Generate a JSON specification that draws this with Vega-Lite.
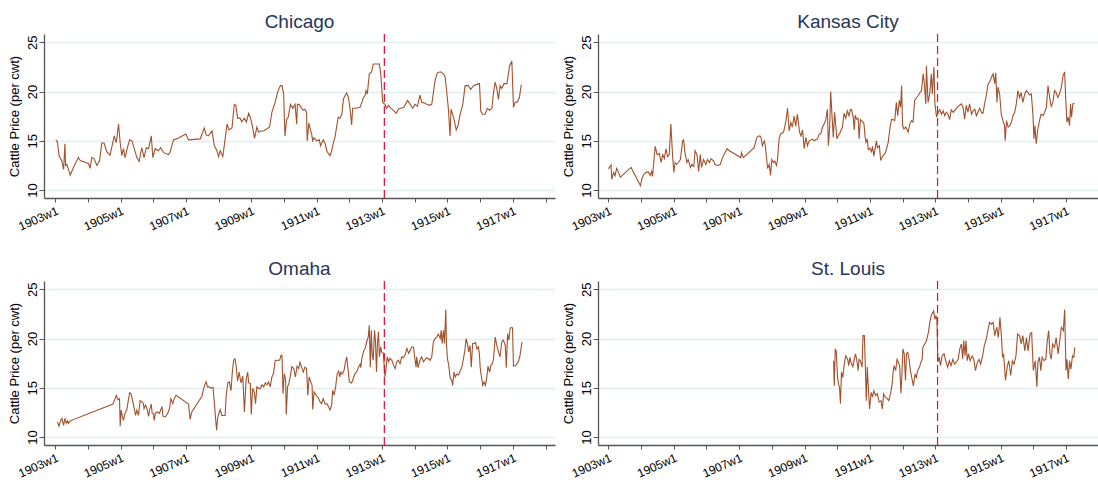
{
  "$schema": "https://vega.github.io/schema/vega-lite/v6.json",
  "padding": {"left": 8, "top": 13, "right": 0, "bottom": 0},
  "background": "white",
  "config": {
    "font": "Liberation Sans",
    "view": {"stroke": null},
    "title": {"fontSize": 19, "fontWeight": "normal", "color": "#26355a", "anchor": "middle", "offset": 1},
    "axis": {"domainColor": "#555555", "domainWidth": 1.3, "tickColor": "#555555", "labelColor": "#000000", "labelFontSize": 12, "titleFontWeight": "normal", "titleFontSize": 13, "titleColor": "#000000"},
    "axisX": {"values": [1903, 1905, 1907, 1909, 1911, 1913, 1915, 1917], "labelExpr": "datum.value + 'w1'", "labelAngle": -24, "labelAlign": "right", "labelBaseline": "top", "grid": false, "tickSize": 4, "labelPadding": 3},
    "axisY": {"values": [10, 15, 20, 25], "labelAngle": -90, "labelAlign": "center", "labelBaseline": "alphabetic", "labelFontSize": 13, "grid": true, "gridColor": "#e4edef", "gridWidth": 1.3, "tickSize": 5, "labelPadding": 3, "titlePadding": 5}
  },
  "data": {"values": [
    {"c":"Chicago","t":1903.02,"p":15.1},{"c":"Chicago","t":1903.07,"p":14.9},{"c":"Chicago","t":1903.12,"p":13.5},{"c":"Chicago","t":1903.20,"p":13.0},{"c":"Chicago","t":1903.26,"p":12.1},{"c":"Chicago","t":1903.30,"p":14.7},{"c":"Chicago","t":1903.32,"p":12.5},{"c":"Chicago","t":1903.36,"p":12.6},{"c":"Chicago","t":1903.41,"p":12.1},{"c":"Chicago","t":1903.46,"p":11.5},{"c":"Chicago","t":1903.56,"p":12.3},{"c":"Chicago","t":1903.71,"p":13.3},{"c":"Chicago","t":1903.77,"p":13.0},{"c":"Chicago","t":1904.02,"p":12.7},{"c":"Chicago","t":1904.07,"p":12.2},{"c":"Chicago","t":1904.12,"p":13.3},{"c":"Chicago","t":1904.19,"p":13.2},{"c":"Chicago","t":1904.28,"p":12.5},{"c":"Chicago","t":1904.36,"p":13.0},{"c":"Chicago","t":1904.43,"p":14.8},{"c":"Chicago","t":1904.50,"p":14.75},{"c":"Chicago","t":1904.58,"p":13.9},{"c":"Chicago","t":1904.68,"p":13.55},{"c":"Chicago","t":1904.73,"p":14.3},{"c":"Chicago","t":1904.81,"p":15.5},{"c":"Chicago","t":1904.87,"p":14.8},{"c":"Chicago","t":1904.94,"p":16.7},{"c":"Chicago","t":1904.99,"p":14.8},{"c":"Chicago","t":1905.04,"p":13.5},{"c":"Chicago","t":1905.09,"p":14.2},{"c":"Chicago","t":1905.14,"p":13.3},{"c":"Chicago","t":1905.21,"p":14.3},{"c":"Chicago","t":1905.28,"p":15.1},{"c":"Chicago","t":1905.35,"p":15.0},{"c":"Chicago","t":1905.42,"p":14.2},{"c":"Chicago","t":1905.50,"p":13.3},{"c":"Chicago","t":1905.57,"p":12.9},{"c":"Chicago","t":1905.65,"p":14.3},{"c":"Chicago","t":1905.72,"p":13.3},{"c":"Chicago","t":1905.79,"p":14.3},{"c":"Chicago","t":1905.86,"p":14.2},{"c":"Chicago","t":1905.94,"p":15.5},{"c":"Chicago","t":1905.99,"p":13.3},{"c":"Chicago","t":1906.06,"p":14.2},{"c":"Chicago","t":1906.16,"p":14.0},{"c":"Chicago","t":1906.23,"p":14.3},{"c":"Chicago","t":1906.32,"p":13.8},{"c":"Chicago","t":1906.47,"p":13.6},{"c":"Chicago","t":1906.52,"p":13.9},{"c":"Chicago","t":1906.62,"p":15.1},{"c":"Chicago","t":1906.72,"p":15.2},{"c":"Chicago","t":1907.00,"p":15.7},{"c":"Chicago","t":1907.08,"p":15.1},{"c":"Chicago","t":1907.44,"p":15.2},{"c":"Chicago","t":1907.56,"p":16.3},{"c":"Chicago","t":1907.62,"p":15.6},{"c":"Chicago","t":1907.69,"p":15.5},{"c":"Chicago","t":1907.80,"p":16.0},{"c":"Chicago","t":1907.87,"p":14.5},{"c":"Chicago","t":1907.95,"p":14.0},{"c":"Chicago","t":1908.00,"p":13.4},{"c":"Chicago","t":1908.05,"p":14.0},{"c":"Chicago","t":1908.13,"p":13.4},{"c":"Chicago","t":1908.26,"p":16.7},{"c":"Chicago","t":1908.32,"p":16.1},{"c":"Chicago","t":1908.41,"p":16.3},{"c":"Chicago","t":1908.48,"p":18.7},{"c":"Chicago","t":1908.53,"p":18.6},{"c":"Chicago","t":1908.58,"p":17.3},{"c":"Chicago","t":1908.66,"p":17.3},{"c":"Chicago","t":1908.71,"p":16.95},{"c":"Chicago","t":1908.79,"p":17.3},{"c":"Chicago","t":1908.85,"p":16.9},{"c":"Chicago","t":1908.92,"p":17.8},{"c":"Chicago","t":1908.97,"p":17.4},{"c":"Chicago","t":1909.04,"p":16.4},{"c":"Chicago","t":1909.10,"p":15.25},{"c":"Chicago","t":1909.17,"p":16.4},{"c":"Chicago","t":1909.22,"p":15.9},{"c":"Chicago","t":1909.30,"p":16.0},{"c":"Chicago","t":1909.38,"p":16.0},{"c":"Chicago","t":1909.56,"p":16.4},{"c":"Chicago","t":1909.63,"p":17.9},{"c":"Chicago","t":1909.73,"p":18.9},{"c":"Chicago","t":1909.81,"p":20.0},{"c":"Chicago","t":1909.89,"p":20.6},{"c":"Chicago","t":1909.94,"p":20.6},{"c":"Chicago","t":1909.99,"p":19.75},{"c":"Chicago","t":1910.03,"p":15.5},{"c":"Chicago","t":1910.08,"p":17.15},{"c":"Chicago","t":1910.13,"p":17.4},{"c":"Chicago","t":1910.20,"p":18.7},{"c":"Chicago","t":1910.27,"p":18.3},{"c":"Chicago","t":1910.34,"p":18.7},{"c":"Chicago","t":1910.39,"p":16.7},{"c":"Chicago","t":1910.41,"p":18.7},{"c":"Chicago","t":1910.47,"p":18.7},{"c":"Chicago","t":1910.54,"p":18.3},{"c":"Chicago","t":1910.59,"p":18.1},{"c":"Chicago","t":1910.64,"p":18.2},{"c":"Chicago","t":1910.69,"p":17.9},{"c":"Chicago","t":1910.71,"p":15.0},{"c":"Chicago","t":1910.76,"p":16.8},{"c":"Chicago","t":1910.80,"p":16.3},{"c":"Chicago","t":1910.85,"p":15.6},{"c":"Chicago","t":1910.88,"p":15.0},{"c":"Chicago","t":1910.92,"p":15.3},{"c":"Chicago","t":1911.00,"p":15.0},{"c":"Chicago","t":1911.08,"p":15.1},{"c":"Chicago","t":1911.12,"p":14.5},{"c":"Chicago","t":1911.20,"p":15.1},{"c":"Chicago","t":1911.26,"p":14.7},{"c":"Chicago","t":1911.31,"p":14.0},{"c":"Chicago","t":1911.36,"p":13.7},{"c":"Chicago","t":1911.41,"p":13.5},{"c":"Chicago","t":1911.46,"p":14.0},{"c":"Chicago","t":1911.51,"p":14.8},{"c":"Chicago","t":1911.56,"p":15.35},{"c":"Chicago","t":1911.61,"p":16.4},{"c":"Chicago","t":1911.66,"p":17.4},{"c":"Chicago","t":1911.71,"p":17.3},{"c":"Chicago","t":1911.77,"p":17.7},{"c":"Chicago","t":1911.82,"p":19.25},{"c":"Chicago","t":1911.87,"p":19.6},{"c":"Chicago","t":1911.92,"p":19.85},{"c":"Chicago","t":1911.97,"p":19.4},{"c":"Chicago","t":1912.02,"p":18.3},{"c":"Chicago","t":1912.07,"p":16.6},{"c":"Chicago","t":1912.10,"p":18.3},{"c":"Chicago","t":1912.20,"p":18.3},{"c":"Chicago","t":1912.33,"p":18.4},{"c":"Chicago","t":1912.38,"p":18.9},{"c":"Chicago","t":1912.43,"p":19.4},{"c":"Chicago","t":1912.48,"p":19.6},{"c":"Chicago","t":1912.51,"p":20.1},{"c":"Chicago","t":1912.55,"p":19.75},{"c":"Chicago","t":1912.61,"p":21.8},{"c":"Chicago","t":1912.68,"p":22.0},{"c":"Chicago","t":1912.73,"p":22.8},{"c":"Chicago","t":1912.92,"p":22.8},{"c":"Chicago","t":1912.96,"p":21.8},{"c":"Chicago","t":1913.02,"p":18.9},{"c":"Chicago","t":1913.09,"p":18.7},{"c":"Chicago","t":1913.14,"p":18.3},{"c":"Chicago","t":1913.19,"p":18.6},{"c":"Chicago","t":1913.28,"p":18.3},{"c":"Chicago","t":1913.35,"p":18.1},{"c":"Chicago","t":1913.43,"p":17.8},{"c":"Chicago","t":1913.50,"p":18.2},{"c":"Chicago","t":1913.57,"p":18.3},{"c":"Chicago","t":1913.67,"p":18.4},{"c":"Chicago","t":1913.78,"p":19.1},{"c":"Chicago","t":1913.86,"p":18.7},{"c":"Chicago","t":1913.94,"p":18.3},{"c":"Chicago","t":1914.01,"p":18.7},{"c":"Chicago","t":1914.08,"p":18.5},{"c":"Chicago","t":1914.16,"p":19.65},{"c":"Chicago","t":1914.21,"p":18.9},{"c":"Chicago","t":1914.29,"p":18.85},{"c":"Chicago","t":1914.37,"p":18.7},{"c":"Chicago","t":1914.45,"p":18.6},{"c":"Chicago","t":1914.52,"p":18.7},{"c":"Chicago","t":1914.57,"p":19.85},{"c":"Chicago","t":1914.62,"p":21.1},{"c":"Chicago","t":1914.69,"p":21.9},{"c":"Chicago","t":1914.78,"p":22.0},{"c":"Chicago","t":1914.88,"p":21.8},{"c":"Chicago","t":1914.93,"p":21.45},{"c":"Chicago","t":1914.98,"p":19.9},{"c":"Chicago","t":1915.03,"p":18.2},{"c":"Chicago","t":1915.08,"p":15.5},{"c":"Chicago","t":1915.11,"p":18.2},{"c":"Chicago","t":1915.16,"p":17.7},{"c":"Chicago","t":1915.20,"p":17.2},{"c":"Chicago","t":1915.27,"p":16.1},{"c":"Chicago","t":1915.32,"p":16.5},{"c":"Chicago","t":1915.39,"p":17.7},{"c":"Chicago","t":1915.47,"p":18.7},{"c":"Chicago","t":1915.54,"p":20.6},{"c":"Chicago","t":1915.64,"p":20.6},{"c":"Chicago","t":1915.71,"p":20.2},{"c":"Chicago","t":1915.80,"p":20.6},{"c":"Chicago","t":1915.95,"p":20.8},{"c":"Chicago","t":1915.98,"p":20.8},{"c":"Chicago","t":1916.02,"p":18.0},{"c":"Chicago","t":1916.08,"p":17.7},{"c":"Chicago","t":1916.15,"p":17.7},{"c":"Chicago","t":1916.22,"p":18.3},{"c":"Chicago","t":1916.29,"p":18.1},{"c":"Chicago","t":1916.36,"p":18.3},{"c":"Chicago","t":1916.41,"p":19.9},{"c":"Chicago","t":1916.46,"p":20.95},{"c":"Chicago","t":1916.51,"p":20.3},{"c":"Chicago","t":1916.56,"p":19.2},{"c":"Chicago","t":1916.61,"p":20.6},{"c":"Chicago","t":1916.66,"p":20.3},{"c":"Chicago","t":1916.73,"p":20.8},{"c":"Chicago","t":1916.82,"p":20.8},{"c":"Chicago","t":1916.90,"p":22.6},{"c":"Chicago","t":1916.97,"p":23.1},{"c":"Chicago","t":1917.02,"p":18.4},{"c":"Chicago","t":1917.07,"p":18.9},{"c":"Chicago","t":1917.14,"p":18.95},{"c":"Chicago","t":1917.20,"p":19.4},{"c":"Chicago","t":1917.26,"p":20.7},

    {"c":"Kansas City","t":1903.00,"p":12.15},{"c":"Kansas City","t":1903.08,"p":12.55},{"c":"Kansas City","t":1903.10,"p":11.1},{"c":"Kansas City","t":1903.16,"p":11.8},{"c":"Kansas City","t":1903.20,"p":11.45},{"c":"Kansas City","t":1903.25,"p":12.2},{"c":"Kansas City","t":1903.31,"p":11.8},{"c":"Kansas City","t":1903.36,"p":11.3},{"c":"Kansas City","t":1903.69,"p":12.3},{"c":"Kansas City","t":1903.90,"p":10.95},{"c":"Kansas City","t":1903.98,"p":10.45},{"c":"Kansas City","t":1904.02,"p":11.1},{"c":"Kansas City","t":1904.08,"p":11.6},{"c":"Kansas City","t":1904.15,"p":11.8},{"c":"Kansas City","t":1904.22,"p":11.85},{"c":"Kansas City","t":1904.28,"p":11.5},{"c":"Kansas City","t":1904.32,"p":11.9},{"c":"Kansas City","t":1904.35,"p":11.4},{"c":"Kansas City","t":1904.43,"p":14.45},{"c":"Kansas City","t":1904.49,"p":13.6},{"c":"Kansas City","t":1904.56,"p":13.7},{"c":"Kansas City","t":1904.61,"p":12.8},{"c":"Kansas City","t":1904.66,"p":13.6},{"c":"Kansas City","t":1904.71,"p":13.2},{"c":"Kansas City","t":1904.76,"p":14.2},{"c":"Kansas City","t":1904.81,"p":13.4},{"c":"Kansas City","t":1904.86,"p":13.6},{"c":"Kansas City","t":1904.91,"p":16.7},{"c":"Kansas City","t":1904.96,"p":13.6},{"c":"Kansas City","t":1905.00,"p":11.8},{"c":"Kansas City","t":1905.04,"p":12.8},{"c":"Kansas City","t":1905.09,"p":12.6},{"c":"Kansas City","t":1905.14,"p":12.8},{"c":"Kansas City","t":1905.20,"p":13.1},{"c":"Kansas City","t":1905.27,"p":15.0},{"c":"Kansas City","t":1905.30,"p":15.1},{"c":"Kansas City","t":1905.34,"p":13.8},{"c":"Kansas City","t":1905.40,"p":12.8},{"c":"Kansas City","t":1905.44,"p":13.1},{"c":"Kansas City","t":1905.51,"p":12.3},{"c":"Kansas City","t":1905.55,"p":12.6},{"c":"Kansas City","t":1905.61,"p":12.4},{"c":"Kansas City","t":1905.65,"p":14.0},{"c":"Kansas City","t":1905.71,"p":13.6},{"c":"Kansas City","t":1905.76,"p":11.9},{"c":"Kansas City","t":1905.81,"p":13.6},{"c":"Kansas City","t":1905.85,"p":12.3},{"c":"Kansas City","t":1905.91,"p":13.1},{"c":"Kansas City","t":1905.98,"p":12.6},{"c":"Kansas City","t":1906.03,"p":13.1},{"c":"Kansas City","t":1906.09,"p":12.8},{"c":"Kansas City","t":1906.14,"p":13.2},{"c":"Kansas City","t":1906.22,"p":12.95},{"c":"Kansas City","t":1906.26,"p":12.6},{"c":"Kansas City","t":1906.34,"p":12.5},{"c":"Kansas City","t":1906.42,"p":12.6},{"c":"Kansas City","t":1906.49,"p":13.3},{"c":"Kansas City","t":1906.63,"p":14.2},{"c":"Kansas City","t":1906.70,"p":14.0},{"c":"Kansas City","t":1907.05,"p":13.3},{"c":"Kansas City","t":1907.07,"p":13.8},{"c":"Kansas City","t":1907.13,"p":13.3},{"c":"Kansas City","t":1907.46,"p":14.3},{"c":"Kansas City","t":1907.54,"p":15.35},{"c":"Kansas City","t":1907.61,"p":15.5},{"c":"Kansas City","t":1907.66,"p":15.45},{"c":"Kansas City","t":1907.71,"p":14.5},{"c":"Kansas City","t":1907.77,"p":15.0},{"c":"Kansas City","t":1907.80,"p":14.5},{"c":"Kansas City","t":1907.87,"p":12.2},{"c":"Kansas City","t":1907.92,"p":12.6},{"c":"Kansas City","t":1907.96,"p":11.5},{"c":"Kansas City","t":1908.00,"p":13.1},{"c":"Kansas City","t":1908.05,"p":12.8},{"c":"Kansas City","t":1908.09,"p":12.95},{"c":"Kansas City","t":1908.14,"p":12.5},{"c":"Kansas City","t":1908.17,"p":12.95},{"c":"Kansas City","t":1908.22,"p":15.2},{"c":"Kansas City","t":1908.27,"p":15.7},{"c":"Kansas City","t":1908.36,"p":15.9},{"c":"Kansas City","t":1908.43,"p":17.0},{"c":"Kansas City","t":1908.48,"p":18.3},{"c":"Kansas City","t":1908.53,"p":16.0},{"c":"Kansas City","t":1908.58,"p":16.85},{"c":"Kansas City","t":1908.63,"p":16.4},{"c":"Kansas City","t":1908.68,"p":17.5},{"c":"Kansas City","t":1908.73,"p":16.5},{"c":"Kansas City","t":1908.78,"p":17.7},{"c":"Kansas City","t":1908.85,"p":15.85},{"c":"Kansas City","t":1908.89,"p":15.5},{"c":"Kansas City","t":1908.94,"p":16.1},{"c":"Kansas City","t":1908.99,"p":14.2},{"c":"Kansas City","t":1909.04,"p":15.35},{"c":"Kansas City","t":1909.09,"p":14.5},{"c":"Kansas City","t":1909.14,"p":15.0},{"c":"Kansas City","t":1909.19,"p":15.1},{"c":"Kansas City","t":1909.24,"p":15.2},{"c":"Kansas City","t":1909.29,"p":15.0},{"c":"Kansas City","t":1909.34,"p":15.1},{"c":"Kansas City","t":1909.40,"p":15.2},{"c":"Kansas City","t":1909.45,"p":15.7},{"c":"Kansas City","t":1909.50,"p":15.7},{"c":"Kansas City","t":1909.55,"p":16.4},{"c":"Kansas City","t":1909.60,"p":16.7},{"c":"Kansas City","t":1909.65,"p":17.15},{"c":"Kansas City","t":1909.70,"p":18.2},{"c":"Kansas City","t":1909.73,"p":14.5},{"c":"Kansas City","t":1909.77,"p":16.4},{"c":"Kansas City","t":1909.80,"p":20.0},{"c":"Kansas City","t":1909.85,"p":17.0},{"c":"Kansas City","t":1909.88,"p":15.35},{"c":"Kansas City","t":1909.92,"p":17.9},{"c":"Kansas City","t":1909.99,"p":15.2},{"c":"Kansas City","t":1910.03,"p":15.5},{"c":"Kansas City","t":1910.09,"p":15.85},{"c":"Kansas City","t":1910.16,"p":16.4},{"c":"Kansas City","t":1910.21,"p":17.8},{"c":"Kansas City","t":1910.26,"p":17.3},{"c":"Kansas City","t":1910.31,"p":18.05},{"c":"Kansas City","t":1910.36,"p":17.55},{"c":"Kansas City","t":1910.41,"p":18.2},{"c":"Kansas City","t":1910.44,"p":18.15},{"c":"Kansas City","t":1910.49,"p":17.4},{"c":"Kansas City","t":1910.52,"p":16.1},{"c":"Kansas City","t":1910.55,"p":17.6},{"c":"Kansas City","t":1910.59,"p":17.2},{"c":"Kansas City","t":1910.64,"p":17.3},{"c":"Kansas City","t":1910.67,"p":15.2},{"c":"Kansas City","t":1910.71,"p":17.15},{"c":"Kansas City","t":1910.78,"p":16.95},{"c":"Kansas City","t":1910.82,"p":16.7},{"c":"Kansas City","t":1910.85,"p":15.5},{"c":"Kansas City","t":1910.88,"p":14.85},{"c":"Kansas City","t":1910.92,"p":15.2},{"c":"Kansas City","t":1910.95,"p":14.1},{"c":"Kansas City","t":1911.00,"p":14.25},{"c":"Kansas City","t":1911.05,"p":13.9},{"c":"Kansas City","t":1911.08,"p":14.45},{"c":"Kansas City","t":1911.12,"p":13.45},{"c":"Kansas City","t":1911.15,"p":14.0},{"c":"Kansas City","t":1911.20,"p":15.0},{"c":"Kansas City","t":1911.23,"p":14.3},{"c":"Kansas City","t":1911.29,"p":14.5},{"c":"Kansas City","t":1911.33,"p":13.0},{"c":"Kansas City","t":1911.39,"p":13.45},{"c":"Kansas City","t":1911.46,"p":13.7},{"c":"Kansas City","t":1911.51,"p":14.2},{"c":"Kansas City","t":1911.56,"p":14.85},{"c":"Kansas City","t":1911.61,"p":16.2},{"c":"Kansas City","t":1911.66,"p":17.15},{"c":"Kansas City","t":1911.71,"p":17.15},{"c":"Kansas City","t":1911.76,"p":17.05},{"c":"Kansas City","t":1911.81,"p":18.9},{"c":"Kansas City","t":1911.85,"p":17.55},{"c":"Kansas City","t":1911.90,"p":19.1},{"c":"Kansas City","t":1911.94,"p":18.4},{"c":"Kansas City","t":1911.97,"p":20.6},{"c":"Kansas City","t":1912.00,"p":16.55},{"c":"Kansas City","t":1912.04,"p":16.2},{"c":"Kansas City","t":1912.10,"p":16.4},{"c":"Kansas City","t":1912.17,"p":15.9},{"c":"Kansas City","t":1912.22,"p":16.7},{"c":"Kansas City","t":1912.27,"p":17.05},{"c":"Kansas City","t":1912.32,"p":16.9},{"c":"Kansas City","t":1912.37,"p":19.1},{"c":"Kansas City","t":1912.43,"p":19.4},{"c":"Kansas City","t":1912.48,"p":19.6},{"c":"Kansas City","t":1912.53,"p":19.9},{"c":"Kansas City","t":1912.58,"p":20.1},{"c":"Kansas City","t":1912.63,"p":21.8},{"c":"Kansas City","t":1912.66,"p":21.0},{"c":"Kansas City","t":1912.71,"p":18.75},{"c":"Kansas City","t":1912.73,"p":22.6},{"c":"Kansas City","t":1912.78,"p":18.9},{"c":"Kansas City","t":1912.83,"p":19.75},{"c":"Kansas City","t":1912.88,"p":21.8},{"c":"Kansas City","t":1912.91,"p":19.75},{"c":"Kansas City","t":1912.96,"p":22.5},{"c":"Kansas City","t":1912.99,"p":18.75},{"c":"Kansas City","t":1913.04,"p":17.4},{"c":"Kansas City","t":1913.09,"p":17.9},{"c":"Kansas City","t":1913.14,"p":18.15},{"c":"Kansas City","t":1913.19,"p":17.7},{"c":"Kansas City","t":1913.24,"p":18.05},{"c":"Kansas City","t":1913.29,"p":17.55},{"c":"Kansas City","t":1913.34,"p":17.9},{"c":"Kansas City","t":1913.39,"p":17.7},{"c":"Kansas City","t":1913.44,"p":17.15},{"c":"Kansas City","t":1913.49,"p":18.15},{"c":"Kansas City","t":1913.55,"p":17.9},{"c":"Kansas City","t":1913.65,"p":18.3},{"c":"Kansas City","t":1913.70,"p":18.5},{"c":"Kansas City","t":1913.80,"p":18.75},{"c":"Kansas City","t":1913.85,"p":18.4},{"c":"Kansas City","t":1913.90,"p":17.2},{"c":"Kansas City","t":1913.95,"p":18.6},{"c":"Kansas City","t":1914.00,"p":17.9},{"c":"Kansas City","t":1914.05,"p":18.75},{"c":"Kansas City","t":1914.11,"p":17.7},{"c":"Kansas City","t":1914.16,"p":18.05},{"c":"Kansas City","t":1914.21,"p":18.2},{"c":"Kansas City","t":1914.26,"p":17.55},{"c":"Kansas City","t":1914.31,"p":17.95},{"c":"Kansas City","t":1914.36,"p":18.3},{"c":"Kansas City","t":1914.41,"p":17.9},{"c":"Kansas City","t":1914.46,"p":17.8},{"c":"Kansas City","t":1914.51,"p":18.75},{"c":"Kansas City","t":1914.56,"p":19.6},{"c":"Kansas City","t":1914.62,"p":20.8},{"c":"Kansas City","t":1914.67,"p":21.0},{"c":"Kansas City","t":1914.72,"p":21.45},{"c":"Kansas City","t":1914.77,"p":21.8},{"c":"Kansas City","t":1914.82,"p":20.8},{"c":"Kansas City","t":1914.85,"p":21.9},{"c":"Kansas City","t":1914.89,"p":18.9},{"c":"Kansas City","t":1914.92,"p":20.45},{"c":"Kansas City","t":1914.97,"p":19.75},{"c":"Kansas City","t":1915.02,"p":17.7},{"c":"Kansas City","t":1915.07,"p":17.05},{"c":"Kansas City","t":1915.12,"p":16.55},{"c":"Kansas City","t":1915.14,"p":15.0},{"c":"Kansas City","t":1915.18,"p":17.05},{"c":"Kansas City","t":1915.23,"p":16.4},{"c":"Kansas City","t":1915.28,"p":16.55},{"c":"Kansas City","t":1915.33,"p":16.9},{"c":"Kansas City","t":1915.38,"p":17.55},{"c":"Kansas City","t":1915.43,"p":17.9},{"c":"Kansas City","t":1915.48,"p":18.75},{"c":"Kansas City","t":1915.53,"p":20.1},{"c":"Kansas City","t":1915.58,"p":19.4},{"c":"Kansas City","t":1915.63,"p":19.9},{"c":"Kansas City","t":1915.68,"p":18.9},{"c":"Kansas City","t":1915.74,"p":19.75},{"c":"Kansas City","t":1915.79,"p":20.1},{"c":"Kansas City","t":1915.84,"p":19.9},{"c":"Kansas City","t":1915.89,"p":19.65},{"c":"Kansas City","t":1915.94,"p":19.75},{"c":"Kansas City","t":1915.99,"p":17.6},{"c":"Kansas City","t":1916.02,"p":15.2},{"c":"Kansas City","t":1916.05,"p":16.55},{"c":"Kansas City","t":1916.09,"p":14.7},{"c":"Kansas City","t":1916.14,"p":16.2},{"c":"Kansas City","t":1916.19,"p":17.05},{"c":"Kansas City","t":1916.24,"p":17.7},{"c":"Kansas City","t":1916.30,"p":17.55},{"c":"Kansas City","t":1916.35,"p":17.9},{"c":"Kansas City","t":1916.40,"p":18.4},{"c":"Kansas City","t":1916.45,"p":20.6},{"c":"Kansas City","t":1916.50,"p":19.4},{"c":"Kansas City","t":1916.55,"p":18.5},{"c":"Kansas City","t":1916.60,"p":18.9},{"c":"Kansas City","t":1916.65,"p":20.1},{"c":"Kansas City","t":1916.70,"p":19.9},{"c":"Kansas City","t":1916.75,"p":19.4},{"c":"Kansas City","t":1916.80,"p":19.75},{"c":"Kansas City","t":1916.86,"p":20.45},{"c":"Kansas City","t":1916.91,"p":21.6},{"c":"Kansas City","t":1916.96,"p":22.0},{"c":"Kansas City","t":1916.99,"p":19.4},{"c":"Kansas City","t":1917.03,"p":16.9},{"c":"Kansas City","t":1917.07,"p":17.4},{"c":"Kansas City","t":1917.11,"p":16.55},{"c":"Kansas City","t":1917.14,"p":18.75},{"c":"Kansas City","t":1917.17,"p":17.4},{"c":"Kansas City","t":1917.21,"p":18.75},{"c":"Kansas City","t":1917.26,"p":18.8},

    {"c":"Omaha","t":1903.07,"p":11.55},{"c":"Omaha","t":1903.12,"p":11.1},{"c":"Omaha","t":1903.17,"p":11.7},{"c":"Omaha","t":1903.21,"p":11.9},{"c":"Omaha","t":1903.26,"p":11.2},{"c":"Omaha","t":1903.30,"p":11.9},{"c":"Omaha","t":1903.34,"p":11.4},{"c":"Omaha","t":1903.38,"p":11.65},{"c":"Omaha","t":1903.41,"p":11.4},{"c":"Omaha","t":1903.46,"p":11.65},{"c":"Omaha","t":1904.77,"p":13.35},{"c":"Omaha","t":1904.87,"p":14.25},{"c":"Omaha","t":1904.92,"p":13.8},{"c":"Omaha","t":1904.97,"p":13.9},{"c":"Omaha","t":1904.99,"p":11.1},{"c":"Omaha","t":1905.02,"p":12.75},{"c":"Omaha","t":1905.06,"p":12.05},{"c":"Omaha","t":1905.09,"p":11.7},{"c":"Omaha","t":1905.14,"p":12.45},{"c":"Omaha","t":1905.19,"p":12.75},{"c":"Omaha","t":1905.24,"p":13.75},{"c":"Omaha","t":1905.28,"p":14.5},{"c":"Omaha","t":1905.32,"p":14.4},{"c":"Omaha","t":1905.36,"p":13.9},{"c":"Omaha","t":1905.42,"p":12.9},{"c":"Omaha","t":1905.46,"p":12.2},{"c":"Omaha","t":1905.50,"p":12.75},{"c":"Omaha","t":1905.55,"p":12.2},{"c":"Omaha","t":1905.60,"p":13.7},{"c":"Omaha","t":1905.65,"p":13.6},{"c":"Omaha","t":1905.70,"p":13.4},{"c":"Omaha","t":1905.72,"p":12.9},{"c":"Omaha","t":1905.77,"p":13.25},{"c":"Omaha","t":1905.81,"p":12.9},{"c":"Omaha","t":1905.86,"p":12.1},{"c":"Omaha","t":1905.89,"p":12.75},{"c":"Omaha","t":1905.94,"p":13.35},{"c":"Omaha","t":1905.97,"p":12.4},{"c":"Omaha","t":1906.01,"p":12.35},{"c":"Omaha","t":1906.03,"p":11.7},{"c":"Omaha","t":1906.07,"p":12.45},{"c":"Omaha","t":1906.13,"p":12.55},{"c":"Omaha","t":1906.19,"p":12.4},{"c":"Omaha","t":1906.27,"p":13.1},{"c":"Omaha","t":1906.30,"p":12.1},{"c":"Omaha","t":1906.37,"p":12.05},{"c":"Omaha","t":1906.44,"p":12.4},{"c":"Omaha","t":1906.50,"p":12.9},{"c":"Omaha","t":1906.54,"p":13.9},{"c":"Omaha","t":1906.60,"p":13.4},{"c":"Omaha","t":1906.64,"p":13.9},{"c":"Omaha","t":1906.70,"p":14.25},{"c":"Omaha","t":1907.08,"p":13.35},{"c":"Omaha","t":1907.11,"p":12.4},{"c":"Omaha","t":1907.13,"p":11.8},{"c":"Omaha","t":1907.18,"p":12.55},{"c":"Omaha","t":1907.49,"p":14.15},{"c":"Omaha","t":1907.57,"p":15.25},{"c":"Omaha","t":1907.62,"p":15.6},{"c":"Omaha","t":1907.66,"p":15.1},{"c":"Omaha","t":1907.72,"p":15.1},{"c":"Omaha","t":1907.77,"p":14.95},{"c":"Omaha","t":1907.83,"p":15.05},{"c":"Omaha","t":1907.87,"p":13.5},{"c":"Omaha","t":1907.91,"p":11.8},{"c":"Omaha","t":1907.94,"p":10.7},{"c":"Omaha","t":1907.97,"p":11.9},{"c":"Omaha","t":1908.01,"p":12.4},{"c":"Omaha","t":1908.05,"p":12.8},{"c":"Omaha","t":1908.10,"p":12.2},{"c":"Omaha","t":1908.15,"p":12.2},{"c":"Omaha","t":1908.20,"p":12.2},{"c":"Omaha","t":1908.23,"p":14.1},{"c":"Omaha","t":1908.28,"p":15.5},{"c":"Omaha","t":1908.33,"p":15.6},{"c":"Omaha","t":1908.38,"p":14.7},{"c":"Omaha","t":1908.42,"p":16.6},{"c":"Omaha","t":1908.46,"p":17.8},{"c":"Omaha","t":1908.50,"p":17.95},{"c":"Omaha","t":1908.54,"p":17.15},{"c":"Omaha","t":1908.58,"p":15.7},{"c":"Omaha","t":1908.63,"p":16.6},{"c":"Omaha","t":1908.66,"p":15.95},{"c":"Omaha","t":1908.69,"p":15.5},{"c":"Omaha","t":1908.74,"p":16.2},{"c":"Omaha","t":1908.79,"p":12.55},{"c":"Omaha","t":1908.84,"p":15.8},{"c":"Omaha","t":1908.89,"p":16.6},{"c":"Omaha","t":1908.92,"p":15.5},{"c":"Omaha","t":1908.97,"p":15.45},{"c":"Omaha","t":1909.00,"p":12.3},{"c":"Omaha","t":1909.04,"p":14.95},{"c":"Omaha","t":1909.09,"p":14.6},{"c":"Omaha","t":1909.13,"p":13.4},{"c":"Omaha","t":1909.17,"p":15.1},{"c":"Omaha","t":1909.22,"p":14.95},{"c":"Omaha","t":1909.28,"p":14.95},{"c":"Omaha","t":1909.33,"p":15.3},{"c":"Omaha","t":1909.38,"p":15.1},{"c":"Omaha","t":1909.43,"p":15.5},{"c":"Omaha","t":1909.48,"p":15.3},{"c":"Omaha","t":1909.53,"p":15.6},{"c":"Omaha","t":1909.58,"p":15.1},{"c":"Omaha","t":1909.63,"p":16.1},{"c":"Omaha","t":1909.68,"p":16.45},{"c":"Omaha","t":1909.73,"p":17.75},{"c":"Omaha","t":1909.79,"p":17.8},{"c":"Omaha","t":1909.87,"p":17.8},{"c":"Omaha","t":1909.91,"p":18.3},{"c":"Omaha","t":1909.94,"p":18.3},{"c":"Omaha","t":1909.97,"p":14.4},{"c":"Omaha","t":1910.01,"p":16.45},{"c":"Omaha","t":1910.05,"p":15.8},{"c":"Omaha","t":1910.07,"p":12.3},{"c":"Omaha","t":1910.11,"p":15.1},{"c":"Omaha","t":1910.15,"p":15.45},{"c":"Omaha","t":1910.19,"p":16.1},{"c":"Omaha","t":1910.24,"p":17.15},{"c":"Omaha","t":1910.30,"p":16.95},{"c":"Omaha","t":1910.35,"p":16.1},{"c":"Omaha","t":1910.40,"p":17.2},{"c":"Omaha","t":1910.45,"p":16.95},{"c":"Omaha","t":1910.49,"p":17.6},{"c":"Omaha","t":1910.54,"p":17.1},{"c":"Omaha","t":1910.59,"p":16.6},{"c":"Omaha","t":1910.64,"p":17.1},{"c":"Omaha","t":1910.69,"p":16.95},{"c":"Omaha","t":1910.73,"p":14.25},{"c":"Omaha","t":1910.77,"p":16.1},{"c":"Omaha","t":1910.82,"p":15.6},{"c":"Omaha","t":1910.86,"p":15.25},{"c":"Omaha","t":1910.88,"p":12.8},{"c":"Omaha","t":1910.92,"p":14.6},{"c":"Omaha","t":1910.98,"p":14.25},{"c":"Omaha","t":1911.05,"p":14.0},{"c":"Omaha","t":1911.10,"p":13.6},{"c":"Omaha","t":1911.15,"p":13.4},{"c":"Omaha","t":1911.20,"p":13.9},{"c":"Omaha","t":1911.26,"p":13.35},{"c":"Omaha","t":1911.31,"p":13.4},{"c":"Omaha","t":1911.36,"p":13.1},{"c":"Omaha","t":1911.41,"p":12.75},{"c":"Omaha","t":1911.46,"p":13.25},{"c":"Omaha","t":1911.49,"p":14.75},{"c":"Omaha","t":1911.53,"p":14.25},{"c":"Omaha","t":1911.58,"p":15.1},{"c":"Omaha","t":1911.63,"p":16.45},{"c":"Omaha","t":1911.67,"p":16.7},{"c":"Omaha","t":1911.71,"p":16.1},{"c":"Omaha","t":1911.74,"p":16.6},{"c":"Omaha","t":1911.79,"p":16.4},{"c":"Omaha","t":1911.84,"p":16.8},{"c":"Omaha","t":1911.87,"p":17.45},{"c":"Omaha","t":1911.92,"p":18.15},{"c":"Omaha","t":1911.95,"p":17.1},{"c":"Omaha","t":1912.00,"p":15.6},{"c":"Omaha","t":1912.07,"p":15.5},{"c":"Omaha","t":1912.12,"p":15.95},{"c":"Omaha","t":1912.17,"p":16.45},{"c":"Omaha","t":1912.22,"p":16.6},{"c":"Omaha","t":1912.28,"p":17.1},{"c":"Omaha","t":1912.33,"p":17.4},{"c":"Omaha","t":1912.35,"p":17.05},{"c":"Omaha","t":1912.38,"p":17.95},{"c":"Omaha","t":1912.43,"p":18.65},{"c":"Omaha","t":1912.48,"p":19.0},{"c":"Omaha","t":1912.53,"p":19.65},{"c":"Omaha","t":1912.58,"p":20.2},{"c":"Omaha","t":1912.61,"p":21.35},{"c":"Omaha","t":1912.64,"p":17.1},{"c":"Omaha","t":1912.67,"p":20.85},{"c":"Omaha","t":1912.70,"p":18.3},{"c":"Omaha","t":1912.73,"p":17.8},{"c":"Omaha","t":1912.77,"p":20.85},{"c":"Omaha","t":1912.80,"p":19.65},{"c":"Omaha","t":1912.83,"p":16.6},{"c":"Omaha","t":1912.86,"p":19.5},{"c":"Omaha","t":1912.89,"p":20.7},{"c":"Omaha","t":1912.92,"p":18.15},{"c":"Omaha","t":1912.96,"p":19.15},{"c":"Omaha","t":1912.99,"p":18.65},{"c":"Omaha","t":1913.04,"p":18.5},{"c":"Omaha","t":1913.09,"p":16.1},{"c":"Omaha","t":1913.12,"p":16.95},{"c":"Omaha","t":1913.16,"p":18.15},{"c":"Omaha","t":1913.20,"p":17.65},{"c":"Omaha","t":1913.24,"p":18.0},{"c":"Omaha","t":1913.30,"p":17.8},{"c":"Omaha","t":1913.35,"p":17.3},{"c":"Omaha","t":1913.40,"p":16.95},{"c":"Omaha","t":1913.45,"p":17.65},{"c":"Omaha","t":1913.50,"p":17.8},{"c":"Omaha","t":1913.55,"p":17.45},{"c":"Omaha","t":1913.60,"p":18.15},{"c":"Omaha","t":1913.65,"p":18.05},{"c":"Omaha","t":1913.70,"p":18.3},{"c":"Omaha","t":1913.76,"p":19.0},{"c":"Omaha","t":1913.81,"p":18.5},{"c":"Omaha","t":1913.86,"p":18.8},{"c":"Omaha","t":1913.91,"p":19.15},{"c":"Omaha","t":1913.96,"p":19.15},{"c":"Omaha","t":1914.01,"p":17.8},{"c":"Omaha","t":1914.04,"p":17.1},{"c":"Omaha","t":1914.06,"p":18.15},{"c":"Omaha","t":1914.10,"p":17.05},{"c":"Omaha","t":1914.16,"p":17.8},{"c":"Omaha","t":1914.21,"p":18.15},{"c":"Omaha","t":1914.27,"p":17.65},{"c":"Omaha","t":1914.32,"p":17.9},{"c":"Omaha","t":1914.37,"p":18.05},{"c":"Omaha","t":1914.42,"p":17.95},{"c":"Omaha","t":1914.47,"p":17.8},{"c":"Omaha","t":1914.52,"p":18.15},{"c":"Omaha","t":1914.57,"p":19.65},{"c":"Omaha","t":1914.62,"p":20.0},{"c":"Omaha","t":1914.67,"p":20.15},{"c":"Omaha","t":1914.72,"p":20.45},{"c":"Omaha","t":1914.78,"p":20.0},{"c":"Omaha","t":1914.81,"p":20.85},{"c":"Omaha","t":1914.84,"p":19.5},{"c":"Omaha","t":1914.88,"p":20.85},{"c":"Omaha","t":1914.91,"p":19.5},{"c":"Omaha","t":1914.95,"p":22.95},{"c":"Omaha","t":1914.97,"p":19.5},{"c":"Omaha","t":1915.00,"p":17.95},{"c":"Omaha","t":1915.04,"p":17.3},{"c":"Omaha","t":1915.08,"p":16.1},{"c":"Omaha","t":1915.13,"p":15.75},{"c":"Omaha","t":1915.16,"p":15.25},{"c":"Omaha","t":1915.20,"p":16.6},{"c":"Omaha","t":1915.24,"p":16.1},{"c":"Omaha","t":1915.29,"p":16.4},{"c":"Omaha","t":1915.34,"p":16.3},{"c":"Omaha","t":1915.39,"p":16.7},{"c":"Omaha","t":1915.44,"p":17.1},{"c":"Omaha","t":1915.49,"p":17.95},{"c":"Omaha","t":1915.54,"p":18.95},{"c":"Omaha","t":1915.57,"p":20.0},{"c":"Omaha","t":1915.61,"p":19.5},{"c":"Omaha","t":1915.65,"p":18.65},{"c":"Omaha","t":1915.69,"p":19.3},{"c":"Omaha","t":1915.73,"p":17.1},{"c":"Omaha","t":1915.77,"p":19.5},{"c":"Omaha","t":1915.82,"p":19.5},{"c":"Omaha","t":1915.86,"p":19.6},{"c":"Omaha","t":1915.90,"p":18.95},{"c":"Omaha","t":1915.95,"p":19.15},{"c":"Omaha","t":1915.98,"p":18.3},{"c":"Omaha","t":1916.00,"p":17.1},{"c":"Omaha","t":1916.04,"p":16.1},{"c":"Omaha","t":1916.08,"p":15.25},{"c":"Omaha","t":1916.12,"p":15.6},{"c":"Omaha","t":1916.16,"p":15.25},{"c":"Omaha","t":1916.20,"p":15.95},{"c":"Omaha","t":1916.24,"p":17.2},{"c":"Omaha","t":1916.29,"p":16.6},{"c":"Omaha","t":1916.33,"p":17.3},{"c":"Omaha","t":1916.37,"p":17.4},{"c":"Omaha","t":1916.41,"p":17.95},{"c":"Omaha","t":1916.46,"p":20.15},{"c":"Omaha","t":1916.51,"p":19.3},{"c":"Omaha","t":1916.56,"p":18.65},{"c":"Omaha","t":1916.61,"p":18.15},{"c":"Omaha","t":1916.66,"p":19.65},{"c":"Omaha","t":1916.71,"p":19.85},{"c":"Omaha","t":1916.77,"p":19.3},{"c":"Omaha","t":1916.80,"p":17.05},{"c":"Omaha","t":1916.84,"p":20.5},{"c":"Omaha","t":1916.88,"p":19.85},{"c":"Omaha","t":1916.92,"p":21.1},{"c":"Omaha","t":1916.99,"p":21.1},{"c":"Omaha","t":1917.02,"p":17.2},{"c":"Omaha","t":1917.10,"p":17.3},{"c":"Omaha","t":1917.17,"p":17.65},{"c":"Omaha","t":1917.22,"p":18.3},{"c":"Omaha","t":1917.28,"p":19.65},

    {"c":"St. Louis","t":1909.89,"p":17.75},{"c":"St. Louis","t":1909.91,"p":15.2},{"c":"St. Louis","t":1909.94,"p":18.9},{"c":"St. Louis","t":1909.97,"p":18.75},{"c":"St. Louis","t":1910.01,"p":16.05},{"c":"St. Louis","t":1910.04,"p":15.4},{"c":"St. Louis","t":1910.07,"p":15.05},{"c":"St. Louis","t":1910.10,"p":13.4},{"c":"St. Louis","t":1910.13,"p":16.6},{"c":"St. Louis","t":1910.17,"p":16.05},{"c":"St. Louis","t":1910.21,"p":17.25},{"c":"St. Louis","t":1910.26,"p":18.25},{"c":"St. Louis","t":1910.32,"p":17.9},{"c":"St. Louis","t":1910.35,"p":17.25},{"c":"St. Louis","t":1910.39,"p":18.1},{"c":"St. Louis","t":1910.42,"p":17.6},{"c":"St. Louis","t":1910.48,"p":17.15},{"c":"St. Louis","t":1910.53,"p":18.1},{"c":"St. Louis","t":1910.56,"p":18.45},{"c":"St. Louis","t":1910.61,"p":17.6},{"c":"St. Louis","t":1910.64,"p":16.75},{"c":"St. Louis","t":1910.67,"p":17.9},{"c":"St. Louis","t":1910.71,"p":17.7},{"c":"St. Louis","t":1910.76,"p":17.1},{"c":"St. Louis","t":1910.79,"p":20.3},{"c":"St. Louis","t":1910.83,"p":20.3},{"c":"St. Louis","t":1910.86,"p":17.25},{"c":"St. Louis","t":1910.89,"p":13.7},{"c":"St. Louis","t":1910.92,"p":17.1},{"c":"St. Louis","t":1910.96,"p":14.55},{"c":"St. Louis","t":1910.99,"p":12.85},{"c":"St. Louis","t":1911.04,"p":14.55},{"c":"St. Louis","t":1911.08,"p":14.05},{"c":"St. Louis","t":1911.12,"p":14.7},{"c":"St. Louis","t":1911.18,"p":14.2},{"c":"St. Louis","t":1911.23,"p":14.4},{"c":"St. Louis","t":1911.28,"p":13.55},{"c":"St. Louis","t":1911.34,"p":13.7},{"c":"St. Louis","t":1911.38,"p":12.85},{"c":"St. Louis","t":1911.42,"p":14.4},{"c":"St. Louis","t":1911.47,"p":14.05},{"c":"St. Louis","t":1911.53,"p":13.9},{"c":"St. Louis","t":1911.58,"p":13.7},{"c":"St. Louis","t":1911.64,"p":14.55},{"c":"St. Louis","t":1911.68,"p":15.4},{"c":"St. Louis","t":1911.71,"p":16.55},{"c":"St. Louis","t":1911.74,"p":17.25},{"c":"St. Louis","t":1911.79,"p":16.75},{"c":"St. Louis","t":1911.83,"p":17.9},{"c":"St. Louis","t":1911.87,"p":17.6},{"c":"St. Louis","t":1911.91,"p":17.25},{"c":"St. Louis","t":1911.95,"p":14.45},{"c":"St. Louis","t":1911.98,"p":16.4},{"c":"St. Louis","t":1912.01,"p":18.95},{"c":"St. Louis","t":1912.05,"p":18.45},{"c":"St. Louis","t":1912.09,"p":15.75},{"c":"St. Louis","t":1912.12,"p":18.45},{"c":"St. Louis","t":1912.16,"p":18.6},{"c":"St. Louis","t":1912.20,"p":17.9},{"c":"St. Louis","t":1912.24,"p":16.75},{"c":"St. Louis","t":1912.28,"p":16.05},{"c":"St. Louis","t":1912.33,"p":15.2},{"c":"St. Louis","t":1912.38,"p":16.4},{"c":"St. Louis","t":1912.42,"p":16.05},{"c":"St. Louis","t":1912.46,"p":16.75},{"c":"St. Louis","t":1912.52,"p":17.1},{"c":"St. Louis","t":1912.56,"p":17.6},{"c":"St. Louis","t":1912.60,"p":17.9},{"c":"St. Louis","t":1912.62,"p":19.1},{"c":"St. Louis","t":1912.68,"p":19.45},{"c":"St. Louis","t":1912.73,"p":19.8},{"c":"St. Louis","t":1912.79,"p":20.6},{"c":"St. Louis","t":1912.84,"p":21.8},{"c":"St. Louis","t":1912.89,"p":22.45},{"c":"St. Louis","t":1912.95,"p":22.8},{"c":"St. Louis","t":1912.99,"p":21.95},{"c":"St. Louis","t":1913.02,"p":22.3},{"c":"St. Louis","t":1913.05,"p":21.95},{"c":"St. Louis","t":1913.08,"p":17.6},{"c":"St. Louis","t":1913.12,"p":18.1},{"c":"St. Louis","t":1913.16,"p":17.25},{"c":"St. Louis","t":1913.21,"p":18.25},{"c":"St. Louis","t":1913.27,"p":18.45},{"c":"St. Louis","t":1913.32,"p":17.75},{"c":"St. Louis","t":1913.38,"p":17.1},{"c":"St. Louis","t":1913.43,"p":17.75},{"c":"St. Louis","t":1913.48,"p":17.25},{"c":"St. Louis","t":1913.54,"p":17.9},{"c":"St. Louis","t":1913.59,"p":17.4},{"c":"St. Louis","t":1913.64,"p":17.6},{"c":"St. Louis","t":1913.70,"p":17.9},{"c":"St. Louis","t":1913.75,"p":18.95},{"c":"St. Louis","t":1913.80,"p":19.45},{"c":"St. Louis","t":1913.84,"p":17.9},{"c":"St. Louis","t":1913.87,"p":19.8},{"c":"St. Louis","t":1913.91,"p":18.25},{"c":"St. Louis","t":1913.94,"p":19.8},{"c":"St. Louis","t":1913.98,"p":17.75},{"c":"St. Louis","t":1914.02,"p":18.45},{"c":"St. Louis","t":1914.07,"p":17.75},{"c":"St. Louis","t":1914.13,"p":18.25},{"c":"St. Louis","t":1914.18,"p":17.9},{"c":"St. Louis","t":1914.23,"p":16.75},{"c":"St. Louis","t":1914.29,"p":17.6},{"c":"St. Louis","t":1914.34,"p":17.9},{"c":"St. Louis","t":1914.39,"p":17.4},{"c":"St. Louis","t":1914.45,"p":18.25},{"c":"St. Louis","t":1914.50,"p":19.25},{"c":"St. Louis","t":1914.56,"p":19.95},{"c":"St. Louis","t":1914.61,"p":20.8},{"c":"St. Louis","t":1914.66,"p":21.65},{"c":"St. Louis","t":1914.72,"p":21.45},{"c":"St. Louis","t":1914.77,"p":21.65},{"c":"St. Louis","t":1914.82,"p":20.3},{"c":"St. Louis","t":1914.88,"p":21.15},{"c":"St. Louis","t":1914.93,"p":20.1},{"c":"St. Louis","t":1914.98,"p":22.15},{"c":"St. Louis","t":1915.03,"p":19.95},{"c":"St. Louis","t":1915.06,"p":18.1},{"c":"St. Louis","t":1915.09,"p":18.45},{"c":"St. Louis","t":1915.15,"p":15.75},{"c":"St. Louis","t":1915.20,"p":17.1},{"c":"St. Louis","t":1915.25,"p":17.75},{"c":"St. Louis","t":1915.31,"p":16.25},{"c":"St. Louis","t":1915.36,"p":17.75},{"c":"St. Louis","t":1915.41,"p":17.4},{"c":"St. Louis","t":1915.47,"p":18.25},{"c":"St. Louis","t":1915.52,"p":20.45},{"c":"St. Louis","t":1915.58,"p":20.3},{"c":"St. Louis","t":1915.63,"p":19.45},{"c":"St. Louis","t":1915.68,"p":20.3},{"c":"St. Louis","t":1915.74,"p":18.75},{"c":"St. Louis","t":1915.79,"p":20.1},{"c":"St. Louis","t":1915.84,"p":18.75},{"c":"St. Louis","t":1915.90,"p":20.45},{"c":"St. Louis","t":1915.95,"p":20.6},{"c":"St. Louis","t":1916.00,"p":16.75},{"c":"St. Louis","t":1916.06,"p":17.75},{"c":"St. Louis","t":1916.11,"p":15.1},{"c":"St. Louis","t":1916.14,"p":17.6},{"c":"St. Louis","t":1916.19,"p":18.1},{"c":"St. Louis","t":1916.23,"p":16.75},{"c":"St. Louis","t":1916.27,"p":18.1},{"c":"St. Louis","t":1916.33,"p":17.75},{"c":"St. Louis","t":1916.38,"p":17.9},{"c":"St. Louis","t":1916.43,"p":19.8},{"c":"St. Louis","t":1916.47,"p":20.8},{"c":"St. Louis","t":1916.51,"p":18.45},{"c":"St. Louis","t":1916.55,"p":17.9},{"c":"St. Louis","t":1916.59,"p":19.45},{"c":"St. Louis","t":1916.65,"p":19.1},{"c":"St. Louis","t":1916.70,"p":20.1},{"c":"St. Louis","t":1916.76,"p":18.45},{"c":"St. Louis","t":1916.81,"p":19.8},{"c":"St. Louis","t":1916.86,"p":21.15},{"c":"St. Louis","t":1916.92,"p":20.8},{"c":"St. Louis","t":1916.96,"p":22.95},{"c":"St. Louis","t":1917.00,"p":16.75},{"c":"St. Louis","t":1917.03,"p":17.9},{"c":"St. Louis","t":1917.07,"p":15.9},{"c":"St. Louis","t":1917.11,"p":17.75},{"c":"St. Louis","t":1917.15,"p":16.9},{"c":"St. Louis","t":1917.20,"p":18.25},{"c":"St. Louis","t":1917.24,"p":18.1},{"c":"St. Louis","t":1917.27,"p":19.1}
  ]},
  "spacing": 27,
  "vconcat": [
    {
      "spacing": 7,
      "hconcat": [
        {
          "title": "Chicago",
          "width": 511, "height": 164,
          "layer": [
            {
              "transform": [{"filter": "datum.c === 'Chicago'"}],
              "mark": {"type": "line", "color": "#a0522d", "strokeWidth": 1.1},
              "encoding": {
                "x": {"field": "t", "type": "quantitative", "scale": {"domain": [1902.66, 1918.29], "nice": false, "zero": false}, "axis": {"title": null}},
                "y": {"field": "p", "type": "quantitative", "scale": {"domain": [9.2, 25.84], "nice": false, "zero": false}, "axis": {"title": "Cattle Price (per cwt)"}}
              }
            },
            {
              "data": {"values": [{}]},
              "mark": {"type": "rule", "color": "#d4123c", "strokeDash": [8, 4], "strokeWidth": 1.2},
              "encoding": {"x": {"datum": 1913.07}}
            }
          ]
        },
        {
          "title": "Kansas City",
          "width": 500, "height": 164,
          "layer": [
            {
              "transform": [{"filter": "datum.c === 'Kansas City'"}],
              "mark": {"type": "line", "color": "#a0522d", "strokeWidth": 1.1},
              "encoding": {
                "x": {"field": "t", "type": "quantitative", "scale": {"domain": [1902.68, 1917.98], "nice": false, "zero": false}, "axis": {"title": null}},
                "y": {"field": "p", "type": "quantitative", "scale": {"domain": [9.2, 25.84], "nice": false, "zero": false}, "axis": {"title": "Cattle Price (per cwt)"}}
              }
            },
            {
              "data": {"values": [{}]},
              "mark": {"type": "rule", "color": "#d4123c", "strokeDash": [8, 4], "strokeWidth": 1.2},
              "encoding": {"x": {"datum": 1913.07}}
            }
          ]
        }
      ]
    },
    {
      "spacing": 7,
      "hconcat": [
        {
          "title": "Omaha",
          "width": 511, "height": 164,
          "layer": [
            {
              "transform": [{"filter": "datum.c === 'Omaha'"}],
              "mark": {"type": "line", "color": "#a0522d", "strokeWidth": 1.1},
              "encoding": {
                "x": {"field": "t", "type": "quantitative", "scale": {"domain": [1902.66, 1918.29], "nice": false, "zero": false}, "axis": {"title": null}},
                "y": {"field": "p", "type": "quantitative", "scale": {"domain": [9.2, 25.84], "nice": false, "zero": false}, "axis": {"title": "Cattle Price (per cwt)"}}
              }
            },
            {
              "data": {"values": [{}]},
              "mark": {"type": "rule", "color": "#d4123c", "strokeDash": [8, 4], "strokeWidth": 1.2},
              "encoding": {"x": {"datum": 1913.07}}
            }
          ]
        },
        {
          "title": "St. Louis",
          "width": 500, "height": 164,
          "layer": [
            {
              "transform": [{"filter": "datum.c === 'St. Louis'"}],
              "mark": {"type": "line", "color": "#a0522d", "strokeWidth": 1.1},
              "encoding": {
                "x": {"field": "t", "type": "quantitative", "scale": {"domain": [1902.68, 1917.98], "nice": false, "zero": false}, "axis": {"title": null}},
                "y": {"field": "p", "type": "quantitative", "scale": {"domain": [9.2, 25.84], "nice": false, "zero": false}, "axis": {"title": "Cattle Price (per cwt)"}}
              }
            },
            {
              "data": {"values": [{}]},
              "mark": {"type": "rule", "color": "#d4123c", "strokeDash": [8, 4], "strokeWidth": 1.2},
              "encoding": {"x": {"datum": 1913.07}}
            }
          ]
        }
      ]
    }
  ]
}
